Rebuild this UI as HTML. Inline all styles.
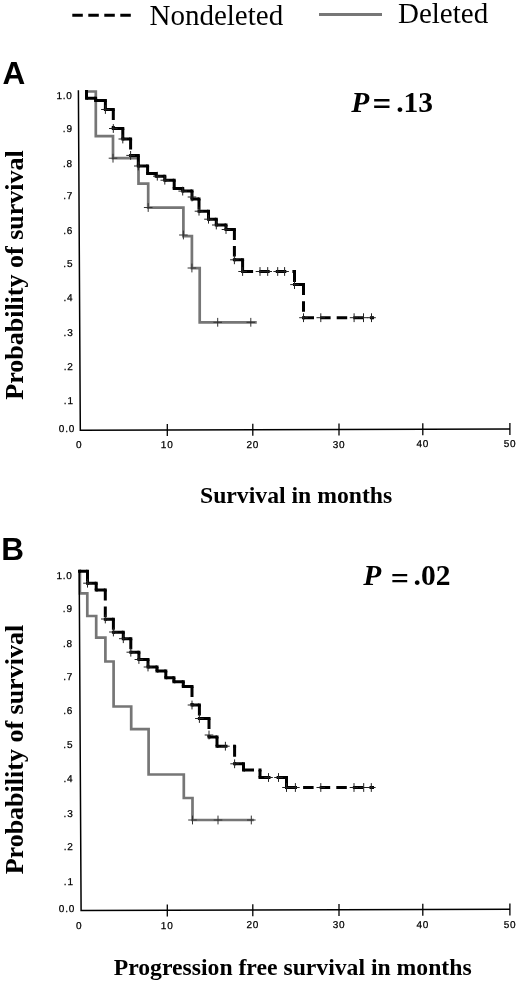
<!DOCTYPE html>
<html><head><meta charset="utf-8"><style>
html,body{margin:0;padding:0;background:#fff;}
svg{display:block;}
.tk{font-family:"Liberation Sans",Arial,sans-serif;font-size:10px;fill:#000;letter-spacing:0.8px;stroke:#000;stroke-width:0.25px;text-rendering:geometricPrecision;}
.leg{font-family:"Liberation Serif","Times New Roman",serif;font-size:29px;fill:#000;}
.lab{font-family:"Liberation Serif","Times New Roman",serif;font-size:23.7px;font-weight:bold;fill:#000;}
.ylab{font-family:"Liberation Serif","Times New Roman",serif;font-size:26px;font-weight:bold;fill:#000;}
.pv{font-family:"Liberation Serif","Times New Roman",serif;font-size:29.5px;font-weight:bold;fill:#000;}
.pan{font-family:"Liberation Sans",Arial,sans-serif;font-size:31.5px;font-weight:bold;fill:#000;}
</style></head><body>
<svg width="520" height="981" viewBox="0 0 520 981">
<rect width="520" height="981" fill="#fff"/>
<!-- legend -->
<path d="M72.3,15.3H132" stroke="#000" stroke-width="3" stroke-dasharray="10.5 5.5" fill="none"/>
<text x="149.5" y="24.8" class="leg">Nondeleted</text>
<path d="M319,14.4H382" stroke="#777" stroke-width="3" fill="none"/>
<text x="398" y="23.1" class="leg">Deleted</text>
<!-- panel A -->
<text x="2.6" y="84.2" class="pan">A</text>
<text y="111.5" class="pv"><tspan x="351.3" font-style="italic">P</tspan><tspan x="396.2">.13</tspan></text>
<text x="372.6" y="114.6" class="pv" style="font-size:33px">=</text>
<text transform="translate(23,275) rotate(-90)" text-anchor="middle" class="ylab">Probability of survival</text>
<text x="200" y="502.6" class="lab">Survival in months</text>
<path d="M86.5,91.5L95.8,91.5L95.8,136.2L113,136.2L113,158.2L138.5,158.2L138.5,183.6L148.2,183.6L148.2,207.7L183.4,207.7L183.4,236.2L191.9,236.2L191.9,268.1L199.7,268.1L199.7,322.3L255.4,322.3" fill="none" stroke="#767676" stroke-width="2.7" stroke-linejoin="miter" stroke-linecap="square"/>
<path d="M108.7,158.2H117.3M113.0,153.8V162.6M143.9,207.5H152.5M148.2,203.1V211.9M179.1,235.0H187.7M183.4,230.6V239.4M187.6,268.0H196.2M191.9,263.6V272.4M213.4,322.3H222.0M217.7,317.9V326.7M246.5,322.3H255.1M250.8,317.9V326.7" fill="none" stroke="#333" stroke-width="1"/>
<path d="M86.5,91.5L86.5,98.2M86.5,98.2L95.6,98.2M95.6,98.2L95.6,100.6M95.6,100.6L105.4,100.6M105.4,100.6L105.4,109.5M105.4,109.5L113.3,109.5M113.3,109.5L113.3,128.5M113.3,128.5L122.8,128.5M122.8,128.5L122.8,139M122.8,139L130.6,139M130.6,139L130.6,155.4M130.6,155.4L138.3,155.4M138.3,155.4L138.3,166M138.3,166L147.6,166M147.6,166L147.6,173.4M147.6,173.4L156.2,173.4M156.2,173.4L156.2,176.2M156.2,176.2L164.8,176.2M164.8,176.2L164.8,180.2M164.8,180.2L174.2,180.2M174.2,180.2L174.2,188.4M174.2,188.4L182.7,188.4M182.7,188.4L182.7,191.1M182.7,191.1L192,191.1M192,191.1L192,199M192,199L199,199M199,199L199,211.2M199,211.2L208.5,211.2M208.5,211.2L208.5,219.3M208.5,219.3L216.3,219.3M216.3,219.3L216.3,225M216.3,225L226,225M226,225L226,229.5M226,229.5L234.4,229.5M234.4,229.5L234.4,259.8M234.4,259.8L242.6,259.8M242.6,259.8L242.6,271.5M242.6,271.5L294.5,271.5M294.5,271.5L294.5,284.6M294.5,284.6L303.5,284.6M303.5,284.6L303.5,317.7M303.5,317.7L372.5,317.7" fill="none" stroke="#000" stroke-width="3" stroke-dasharray="10.5 6.1" stroke-linecap="butt"/>
<path d="M85,90h3v3h-3zM85,96.7h3v3h-3zM94.1,96.7h3v3h-3zM94.1,99.1h3v3h-3zM103.9,99.1h3v3h-3zM103.9,108h3v3h-3zM111.8,108h3v3h-3zM111.8,127h3v3h-3zM121.3,127h3v3h-3zM121.3,137.5h3v3h-3zM129.1,137.5h3v3h-3zM129.1,153.9h3v3h-3zM136.8,153.9h3v3h-3zM136.8,164.5h3v3h-3zM146.1,164.5h3v3h-3zM146.1,171.9h3v3h-3zM154.7,171.9h3v3h-3zM154.7,174.7h3v3h-3zM163.3,174.7h3v3h-3zM163.3,178.7h3v3h-3zM172.7,178.7h3v3h-3zM172.7,186.9h3v3h-3zM181.2,186.9h3v3h-3zM181.2,189.6h3v3h-3zM190.5,189.6h3v3h-3zM190.5,197.5h3v3h-3zM197.5,197.5h3v3h-3zM197.5,209.7h3v3h-3zM207,209.7h3v3h-3zM207,217.8h3v3h-3zM214.8,217.8h3v3h-3zM214.8,223.5h3v3h-3zM224.5,223.5h3v3h-3zM224.5,228h3v3h-3zM232.9,228h3v3h-3zM232.9,258.3h3v3h-3zM241.1,258.3h3v3h-3zM241.1,270h3v3h-3zM293,270h3v3h-3zM293,283.1h3v3h-3zM302,283.1h3v3h-3zM302,316.2h3v3h-3zM371,316.2h3v3h-3z" fill="#000"/>
<path d="M101.1,109.5H109.7M105.4,105.1V113.9M109.0,128.5H117.6M113.3,124.1V132.9M118.5,139.0H127.1M122.8,134.6V143.4M126.3,155.4H134.9M130.6,151.0V159.8M134.0,166.0H142.6M138.3,161.6V170.4M153.0,176.2H161.6M157.3,171.8V180.6M160.5,180.2H169.1M164.8,175.8V184.6M178.4,191.1H187.0M182.7,186.7V195.5M187.7,197.0H196.3M192.0,192.6V201.4M194.7,211.2H203.3M199.0,206.8V215.6M204.2,219.2H212.8M208.5,214.8V223.6M212.0,225.0H220.6M216.3,220.6V229.4M221.7,229.5H230.3M226.0,225.1V233.9M230.1,259.8H238.7M234.4,255.4V264.2M238.3,271.5H246.9M242.6,267.1V275.9M255.7,271.5H264.3M260.0,267.1V275.9M263.4,271.5H272.0M267.7,267.1V275.9M273.4,271.5H282.0M277.7,267.1V275.9M280.3,271.5H288.9M284.6,267.1V275.9M290.2,284.6H298.8M294.5,280.2V289.0M299.2,317.7H307.8M303.5,313.3V322.1M316.5,317.7H325.1M320.8,313.3V322.1M349.8,317.7H358.4M354.1,313.3V322.1M359.2,317.7H367.8M363.5,313.3V322.1M367.2,317.7H375.8M371.5,313.3V322.1" fill="none" stroke="#222" stroke-width="1"/>
<path d="M78.4,90.2 L80.3,430.3 L510,429" fill="none" stroke="#000" stroke-width="1.5"/>
<line x1="167.3" y1="424.0" x2="167.3" y2="436.0" stroke="#000" stroke-width="1.3"/>
<line x1="252.8" y1="423.8" x2="252.8" y2="435.8" stroke="#000" stroke-width="1.3"/>
<line x1="339" y1="423.5" x2="339" y2="435.5" stroke="#000" stroke-width="1.3"/>
<line x1="422.8" y1="423.2" x2="422.8" y2="435.2" stroke="#000" stroke-width="1.3"/>
<line x1="509.9" y1="423.0" x2="509.9" y2="435.0" stroke="#000" stroke-width="1.3"/>
<text x="79.1" y="448.4" class="tk" text-anchor="middle">0</text>
<text x="167.2" y="448.1" class="tk" text-anchor="middle">10</text>
<text x="252.8" y="447.9" class="tk" text-anchor="middle">20</text>
<text x="339" y="447.6" class="tk" text-anchor="middle">30</text>
<text x="422.8" y="447.3" class="tk" text-anchor="middle">40</text>
<text x="510" y="447.1" class="tk" text-anchor="middle">50</text>
<text x="72.7" y="98.5" class="tk" text-anchor="end">1.0</text>
<text x="72.8" y="131.8" class="tk" text-anchor="end">.9</text>
<text x="72.9" y="166.7" class="tk" text-anchor="end">.8</text>
<text x="73.1" y="199.1" class="tk" text-anchor="end">.7</text>
<text x="73.2" y="233.8" class="tk" text-anchor="end">.6</text>
<text x="73.3" y="267.4" class="tk" text-anchor="end">.5</text>
<text x="73.4" y="301.0" class="tk" text-anchor="end">.4</text>
<text x="73.5" y="336.2" class="tk" text-anchor="end">.3</text>
<text x="73.7" y="369.8" class="tk" text-anchor="end">.2</text>
<text x="73.8" y="404.0" class="tk" text-anchor="end">.1</text>
<text x="75.1" y="431.5" class="tk" text-anchor="end">0.0</text>
<!-- panel B -->
<text x="1.2" y="560" class="pan">B</text>
<text y="585.2" class="pv"><tspan x="363.3" font-style="italic">P</tspan><tspan x="413.5">.02</tspan></text>
<text x="390.8" y="589.2" class="pv" style="font-size:32px">=</text>
<text transform="translate(23,749.6) rotate(-90)" text-anchor="middle" class="ylab">Probability of survival</text>
<text x="113.7" y="974.8" class="lab">Progression free survival in months</text>
<path d="M79.9,571.2L79.9,593.3L87.3,593.3L87.3,616L96.2,616L96.2,637.7L105.4,637.7L105.4,661.5L113.6,661.5L113.6,706.5L131.2,706.5L131.2,729.2L148.6,729.2L148.6,774.5L183.8,774.5L183.8,798L192.5,798L192.5,820L252.5,820" fill="none" stroke="#767676" stroke-width="2.7" stroke-linejoin="miter" stroke-linecap="square"/>
<path d="M188.2,820.0H196.8M192.5,815.6V824.4M213.7,820.0H222.3M218.0,815.6V824.4M247.0,820.0H255.6M251.3,815.6V824.4" fill="none" stroke="#333" stroke-width="1"/>
<path d="M79.5,571.2L87.5,571.2M87.5,571.2L87.5,583.2M87.5,583.2L96.2,583.2M96.2,583.2L96.2,590M96.2,590L105.3,590M105.3,590L105.3,619.2M105.3,619.2L113.4,619.2M113.4,619.2L113.4,632.3M113.4,632.3L123.3,632.3M123.3,632.3L123.3,638.7M123.3,638.7L130.8,638.7M130.8,638.7L130.8,652.2M130.8,652.2L138.9,652.2M138.9,652.2L138.9,659.5M138.9,659.5L148,659.5M148,659.5L148,667M148,667L157,667M157,667L157,671M157,671L165.8,671M165.8,671L165.8,677.7M165.8,677.7L173.9,677.7M173.9,677.7L173.9,681.8M173.9,681.8L183.3,681.8M183.3,681.8L183.3,686.4M183.3,686.4L192,686.4M192,686.4L192,705.1M192,705.1L199.4,705.1M199.4,705.1L199.4,718.5M199.4,718.5L209,718.5M209,718.5L209,737M209,737L217,737M217,737L217,746.2M217,746.2L234.6,746.2M234.6,746.2L234.6,763.8M234.6,763.8L243.5,763.8M243.5,763.8L243.5,770M243.5,770L260,770M260,770L260,777.5M260,777.5L286.5,777.5M286.5,777.5L286.5,787.5M286.5,787.5L372.5,787.5" fill="none" stroke="#000" stroke-width="3" stroke-dasharray="10.5 6.1" stroke-linecap="butt"/>
<path d="M78,569.7h3v3h-3zM86,569.7h3v3h-3zM86,581.7h3v3h-3zM94.7,581.7h3v3h-3zM94.7,588.5h3v3h-3zM103.8,588.5h3v3h-3zM103.8,617.7h3v3h-3zM111.9,617.7h3v3h-3zM111.9,630.8h3v3h-3zM121.8,630.8h3v3h-3zM121.8,637.2h3v3h-3zM129.3,637.2h3v3h-3zM129.3,650.7h3v3h-3zM137.4,650.7h3v3h-3zM137.4,658h3v3h-3zM146.5,658h3v3h-3zM146.5,665.5h3v3h-3zM155.5,665.5h3v3h-3zM155.5,669.5h3v3h-3zM164.3,669.5h3v3h-3zM164.3,676.2h3v3h-3zM172.4,676.2h3v3h-3zM172.4,680.3h3v3h-3zM181.8,680.3h3v3h-3zM181.8,684.9h3v3h-3zM190.5,684.9h3v3h-3zM190.5,703.6h3v3h-3zM197.9,703.6h3v3h-3zM197.9,717h3v3h-3zM207.5,717h3v3h-3zM207.5,735.5h3v3h-3zM215.5,735.5h3v3h-3zM215.5,744.7h3v3h-3zM233.1,744.7h3v3h-3zM233.1,762.3h3v3h-3zM242,762.3h3v3h-3zM242,768.5h3v3h-3zM258.5,768.5h3v3h-3zM258.5,776h3v3h-3zM285,776h3v3h-3zM285,786h3v3h-3zM371,786h3v3h-3z" fill="#000"/>
<path d="M83.2,583.2H91.8M87.5,578.8V587.6M101.0,619.0H109.6M105.3,614.6V623.4M109.1,632.0H117.7M113.4,627.6V636.4M119.0,638.7H127.6M123.3,634.3V643.1M126.5,652.2H135.1M130.8,647.8V656.6M134.6,659.5H143.2M138.9,655.1V663.9M143.7,667.0H152.3M148.0,662.6V671.4M187.7,705.0H196.3M192.0,700.6V709.4M195.1,718.5H203.7M199.4,714.1V722.9M204.7,735.0H213.3M209.0,730.6V739.4M221.1,746.2H229.7M225.4,741.8V750.6M230.3,763.8H238.9M234.6,759.4V768.2M264.2,777.5H272.8M268.5,773.1V781.9M274.2,777.5H282.8M278.5,773.1V781.9M282.2,787.5H290.8M286.5,783.1V791.9M291.1,787.5H299.7M295.4,783.1V791.9M316.5,787.5H325.1M320.8,783.1V791.9M349.7,787.5H358.3M354.0,783.1V791.9M359.4,787.5H368.0M363.7,783.1V791.9M367.0,787.5H375.6M371.3,783.1V791.9" fill="none" stroke="#222" stroke-width="1"/>
<path d="M79.2,570.7 L81.1,910.6 L510,909.3" fill="none" stroke="#000" stroke-width="1.5"/>
<line x1="167.3" y1="904.5" x2="167.3" y2="916.5" stroke="#000" stroke-width="1.3"/>
<line x1="252.8" y1="904.3" x2="252.8" y2="916.3" stroke="#000" stroke-width="1.3"/>
<line x1="339" y1="904.0" x2="339" y2="916.0" stroke="#000" stroke-width="1.3"/>
<line x1="422.8" y1="903.7" x2="422.8" y2="915.7" stroke="#000" stroke-width="1.3"/>
<line x1="509.9" y1="903.5" x2="509.9" y2="915.5" stroke="#000" stroke-width="1.3"/>
<text x="79.1" y="928.9" class="tk" text-anchor="middle">0</text>
<text x="167.2" y="928.6" class="tk" text-anchor="middle">10</text>
<text x="252.8" y="928.4" class="tk" text-anchor="middle">20</text>
<text x="339" y="928.1" class="tk" text-anchor="middle">30</text>
<text x="422.8" y="927.8" class="tk" text-anchor="middle">40</text>
<text x="510" y="927.6" class="tk" text-anchor="middle">50</text>
<text x="72.7" y="579.0" class="tk" text-anchor="end">1.0</text>
<text x="72.8" y="612.3" class="tk" text-anchor="end">.9</text>
<text x="72.9" y="647.2" class="tk" text-anchor="end">.8</text>
<text x="73.1" y="679.6" class="tk" text-anchor="end">.7</text>
<text x="73.2" y="714.3" class="tk" text-anchor="end">.6</text>
<text x="73.3" y="747.9" class="tk" text-anchor="end">.5</text>
<text x="73.4" y="781.5" class="tk" text-anchor="end">.4</text>
<text x="73.5" y="816.7" class="tk" text-anchor="end">.3</text>
<text x="73.7" y="850.3" class="tk" text-anchor="end">.2</text>
<text x="73.8" y="884.5" class="tk" text-anchor="end">.1</text>
<text x="75.1" y="912.0" class="tk" text-anchor="end">0.0</text>
</svg>
</body></html>
